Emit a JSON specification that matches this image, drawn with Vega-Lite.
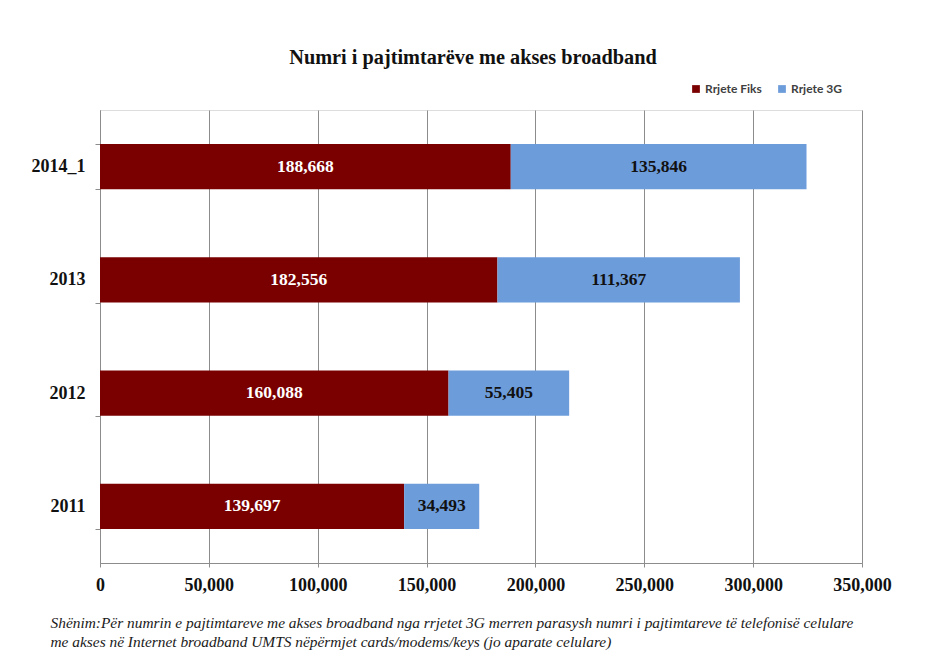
{
  "$schema": "https://vega.github.io/schema/vega-lite/v6.json",
  "width": 762,
  "height": 453,
  "autosize": {"type": "none"},
  "padding": {"left": 100, "top": 110, "right": 71, "bottom": 107},
  "background": "white",
  "title": {
    "text": "Numri i pajtimtarëve me akses broadband",
    "font": "Liberation Serif",
    "fontSize": 20.3,
    "fontWeight": "bold",
    "color": "#111111",
    "anchor": "middle",
    "offset": 15,
    "dx": -8
  },
  "data": {
    "values": [
      {"year": "2014_1", "type": "Rrjete Fiks", "value": 188668},
      {"year": "2014_1", "type": "Rrjete 3G", "value": 135846},
      {"year": "2013", "type": "Rrjete Fiks", "value": 182556},
      {"year": "2013", "type": "Rrjete 3G", "value": 111367},
      {"year": "2012", "type": "Rrjete Fiks", "value": 160088},
      {"year": "2012", "type": "Rrjete 3G", "value": 55405},
      {"year": "2011", "type": "Rrjete Fiks", "value": 139697},
      {"year": "2011", "type": "Rrjete 3G", "value": 34493}
    ]
  },
  "encoding": {
    "y": {
      "field": "year",
      "type": "nominal",
      "sort": ["2014_1", "2013", "2012", "2011"],
      "scale": {"paddingInner": 0.6, "paddingOuter": 0.3},
      "axis": {
        "title": null,
        "labelFont": "Liberation Serif",
        "labelFontSize": 18,
        "labelFontWeight": "bold",
        "labelColor": "#111111",
        "labelPadding": 10,
        "domainColor": "#8c8c8c",
        "tickColor": "#8c8c8c",
        "tickSize": 5,
        "tickBand": "extent",
        "grid": false
      }
    },
    "order": {"field": "type", "sort": "descending"}
  },
  "layer": [
    {
      "mark": {"type": "bar"},
      "encoding": {
        "x": {
          "field": "value",
          "type": "quantitative",
          "stack": "zero",
          "scale": {"domain": [0, 350000], "nice": false},
          "axis": {
            "values": [0, 50000, 100000, 150000, 200000, 250000, 300000, 350000],
            "format": ",d",
            "labelFont": "Liberation Serif",
            "labelFontSize": 18,
            "labelFontWeight": "bold",
            "labelColor": "#111111",
            "labelPadding": 9,
            "labelFlush": false,
            "grid": true,
            "gridColor": "#8c8c8c",
            "domainColor": "#8c8c8c",
            "tickColor": "#8c8c8c",
            "tickSize": 4,
            "title": [
              "Shënim:Për numrin e pajtimtareve me akses broadband nga rrjetet 3G merren parasysh numri i pajtimtareve të telefonisë celulare",
              "me akses në Internet broadband UMTS nëpërmjet cards/modems/keys (jo aparate celulare)"
            ],
            "titleFont": "Liberation Serif",
            "titleFontSize": 15.4,
            "titleFontWeight": "normal",
            "titleFontStyle": "italic",
            "titleColor": "#1a1a1a",
            "titleAnchor": "start",
            "titleAlign": "left",
            "titleBaseline": "alphabetic",
            "titleX": -50,
            "titleY": 64,
            "titleLineHeight": 19
          }
        },
        "color": {
          "field": "type",
          "type": "nominal",
          "scale": {"domain": ["Rrjete Fiks", "Rrjete 3G"], "range": ["#7a0000", "#6d9cdb"]},
          "legend": {
            "title": null,
            "orient": "none",
            "direction": "horizontal",
            "legendX": 590,
            "legendY": -27,
            "symbolType": "square",
            "symbolSize": 60,
            "symbolStrokeWidth": 0,
            "labelFont": "Lato",
            "labelFontSize": 12,
            "labelFontWeight": "bold",
            "labelColor": "#404040",
            "columnPadding": 14,
            "labelOffset": 3
          }
        }
      }
    },
    {
      "mark": {"type": "text", "font": "Liberation Serif", "fontSize": 17.5, "fontWeight": "bold", "baseline": "middle", "align": "center"},
      "encoding": {
        "x": {"field": "value", "type": "quantitative", "stack": "zero", "bandPosition": 0.5},
        "detail": {"field": "type"},
        "text": {"field": "value", "type": "quantitative", "format": ",d"},
        "color": {
          "condition": {"test": "datum.type === 'Rrjete Fiks'", "value": "#ffffff"},
          "value": "#111111"
        }
      }
    }
  ]
}
